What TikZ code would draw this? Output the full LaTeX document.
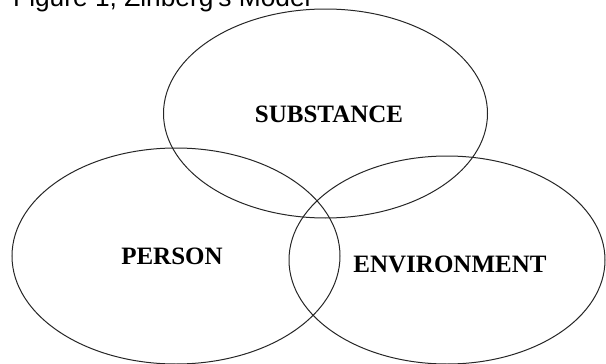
\documentclass[tikz,border=0pt]{standalone}
\usepackage{fontspec}
\setmainfont{Liberation Serif}
\newfontfamily\titlefont{Liberation Sans}
\usetikzlibrary{shapes.geometric}
\begin{document}
\begin{tikzpicture}[x=1pt,y=-1pt,
  circlearea/.style={ellipse,draw=black!85,line width=1pt,inner sep=0pt},
  factor/.style={font=\fontsize{25}{25}\selectfont\bfseries,inner sep=0pt,anchor=base}]
  \useasboundingbox (0,0) rectangle (606,364);
  \clip (0,0) rectangle (606,364);
  % caption
  \node[anchor=base west,inner sep=0pt,font=\titlefont\fontsize{26.3}{26.3}\selectfont] (title) at (13,6.5) {Figure 1, Zinberg's Model};
  % the three overlapping sets
  \node[circlearea,minimum width=324pt,minimum height=209pt] (substance) at (325.5,113.5) {};
  \node[circlearea,minimum width=328pt,minimum height=216pt] (person) at (176,256) {};
  \node[circlearea,minimum width=316pt,minimum height=208pt] (environment) at (447,260) {};
  % labels
  \node[factor] (substancelabel) at (329,122) {SUBSTANCE};
  \node[factor] (personlabel) at (172,264) {PERSON};
  \node[factor] (environmentlabel) at (450,272) {ENVIRONMENT};
\end{tikzpicture}
\end{document}
